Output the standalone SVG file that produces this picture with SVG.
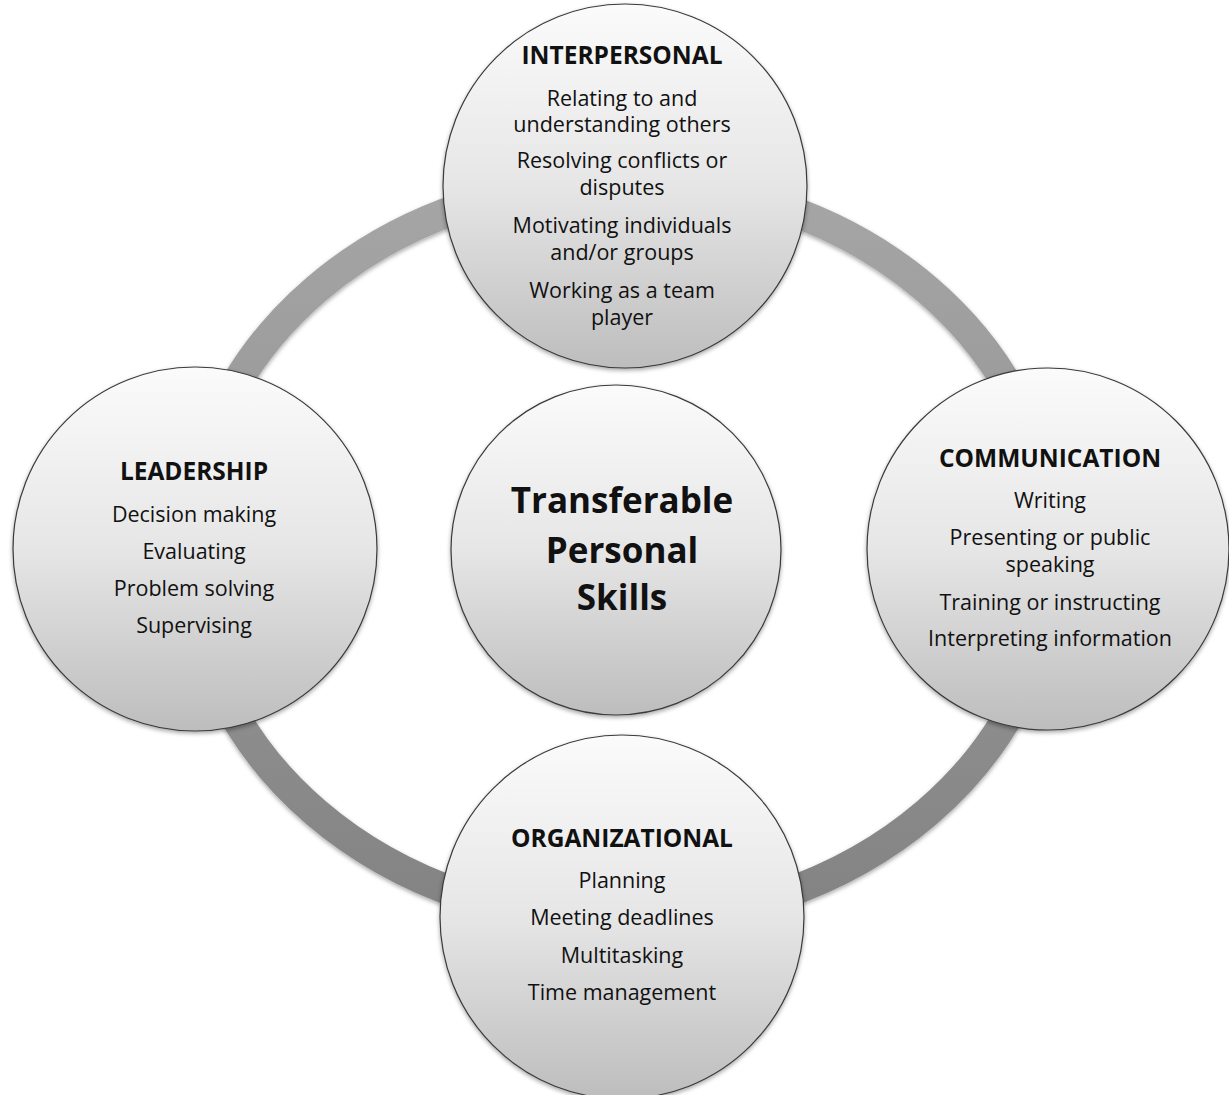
<svg xmlns="http://www.w3.org/2000/svg" width="1229" height="1095" viewBox="0 0 1229 1095">
<defs>
<linearGradient id="cg" x1="0" y1="0" x2="0" y2="1">
<stop offset="0" stop-color="#fbfbfb"/>
<stop offset="0.5" stop-color="#e6e6e6"/>
<stop offset="1" stop-color="#bdbdbd"/>
</linearGradient>
<linearGradient id="rg" gradientUnits="userSpaceOnUse" x1="0" y1="180" x2="0" y2="920">
<stop offset="0" stop-color="#a6a6a6"/>
<stop offset="1" stop-color="#838383"/>
</linearGradient>
<filter id="sh" x="-10%" y="-10%" width="120%" height="125%">
<feDropShadow dx="0" dy="2" stdDeviation="2" flood-color="#000" flood-opacity="0.35"/>
</filter>
</defs>
<style>
.node circle{fill:url(#cg);stroke:#3a3a3a;stroke-width:1.2;filter:url(#sh)}
text{font-family:"Open Sans","Noto Sans","Liberation Sans",sans-serif;fill:#111;text-anchor:middle}
.t{font-size:24.5px;font-weight:bold}
.b{font-size:21.5px}
.c{font-size:35px;font-weight:bold}
</style>
<rect width="1229" height="1095" fill="#fff"/>
<g id="connectors">
<ellipse cx="621.5" cy="551" rx="432" ry="370" fill="none" stroke="url(#rg)" stroke-width="30" filter="url(#sh)"/>
</g>
<g id="interpersonal" class="node">
<circle cx="625" cy="186" r="182"/>
<text class="t" x="622" y="64">INTERPERSONAL</text>
<text class="b" x="622" y="106">Relating to and</text>
<text class="b" x="622" y="132">understanding others</text>
<text class="b" x="622" y="168">Resolving conflicts or</text>
<text class="b" x="622" y="195">disputes</text>
<text class="b" x="622" y="233">Motivating individuals</text>
<text class="b" x="622" y="260">and/or groups</text>
<text class="b" x="622" y="298">Working as a team</text>
<text class="b" x="622" y="325">player</text>
</g>
<g id="leadership" class="node">
<circle cx="195" cy="549" r="182"/>
<text class="t" x="194" y="480">LEADERSHIP</text>
<text class="b" x="194" y="522">Decision making</text>
<text class="b" x="194" y="559">Evaluating</text>
<text class="b" x="194" y="596">Problem solving</text>
<text class="b" x="194" y="633">Supervising</text>
</g>
<g id="communication" class="node">
<circle cx="1048" cy="549" r="181"/>
<text class="t" x="1050" y="467">COMMUNICATION</text>
<text class="b" x="1050" y="508">Writing</text>
<text class="b" x="1050" y="545">Presenting or public</text>
<text class="b" x="1050" y="572">speaking</text>
<text class="b" x="1050" y="610">Training or instructing</text>
<text class="b" x="1050" y="646">Interpreting information</text>
</g>
<g id="organizational" class="node">
<circle cx="622" cy="917" r="182"/>
<text class="t" x="622" y="847">ORGANIZATIONAL</text>
<text class="b" x="622" y="888">Planning</text>
<text class="b" x="622" y="925">Meeting deadlines</text>
<text class="b" x="622" y="963">Multitasking</text>
<text class="b" x="622" y="1000">Time management</text>
</g>
<g id="center" class="node">
<circle cx="616" cy="550" r="165"/>
<text class="c" x="622" y="513">Transferable</text>
<text class="c" x="622" y="563">Personal</text>
<text class="c" x="622" y="610">Skills</text>
</g>
</svg>
